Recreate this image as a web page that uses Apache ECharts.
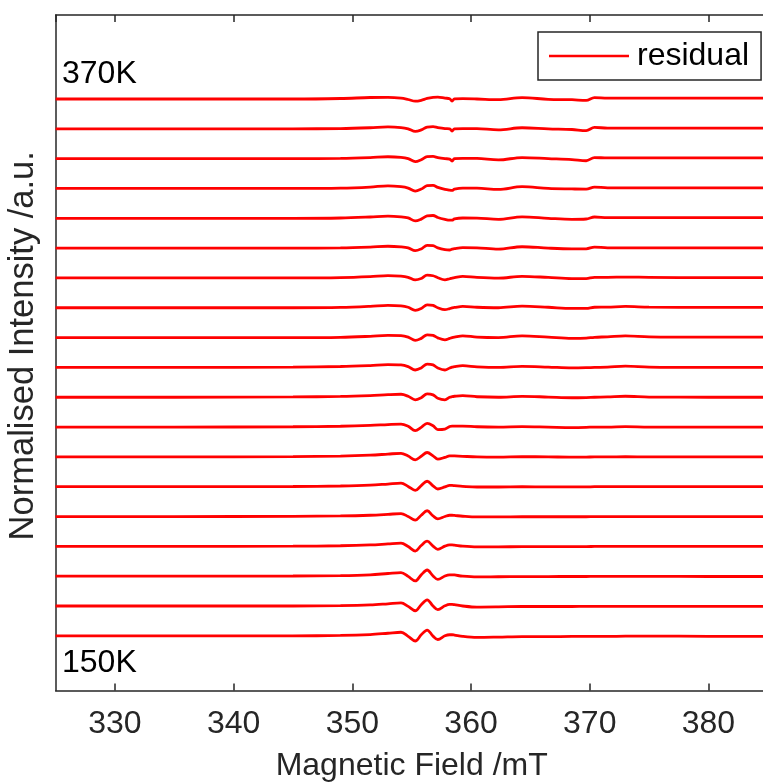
<!DOCTYPE html>
<html>
<head>
<meta charset="utf-8">
<script src="https://cdn.jsdelivr.net/npm/echarts@6/dist/echarts.min.js"></script>
<style>
html,body{margin:0;padding:0;background:#fff;}
#chart{width:763px;height:784px;}
</style>
</head>
<body>
<div id="chart"></div>
<script>
// Magnetic field grid (mT)
const fieldX = [325, 335, 345, 349, 351.5, 353, 354.1, 354.7, 355.3, 355.8, 356.3, 356.8, 357.2, 357.8, 358.2, 358.4, 358.6, 359.3, 360.5, 362.3, 364.3, 366.5, 368.5, 369.7, 370.4, 371.5, 373, 375, 380, 385];

// Residuals, bottom (150K) to top (370K)
const res01 = [0, 0, 0, 0.4, 1.3, 2.6, 3.6, -0.5, -5.2, 1.0, 5.8, -0.3, -3.7, 0, 1.1, 1.1, 0.8, -0.6, -1.6, -1.3, -0.8, -0.8, -0.6, -0.5, -0.5, -0.5, -0.4, -0.3, -0.5, -0.5];
const res02 = [0, 0, 0, 0.4, 1.1, 2.2, 3.1, -0.4, -4.8, 1.3, 6.2, 0, -3.6, 0.2, 1.6, 1.6, 1.3, 0, -1.1, -0.9, -0.5, -0.5, -0.5, -0.4, -0.4, -0.3, -0.3, -0.3, -0.4, -0.4];
const res03 = [0, 0, 0.2, 0.6, 1.4, 2.7, 3.6, -0.2, -4.8, 1.3, 6.2, 0.2, -3.3, 0.2, 1.4, 1.4, 1.2, 0, -0.8, -0.6, -0.4, -0.4, -0.3, -0.3, -0.2, -0.2, -0.2, -0.2, -0.3, -0.3];
const res04 = [0, 0, 0.2, 0.6, 1.4, 2.5, 3.3, -0.2, -4.7, 0.9, 5.3, 0.2, -3.0, 0.2, 1.4, 1.4, 1.2, 0.2, -0.5, -0.5, -0.3, -0.3, -0.2, -0.2, -0.1, 0, 0, 0, 0, 0];
const res05 = [0, 0, 0.2, 0.6, 1.3, 2.2, 3.0, 0, -3.7, 1.3, 5.8, 0.6, -2.3, 0, 1.3, 1.3, 1.1, 0.3, -0.4, -0.4, -0.2, -0.2, -0.2, -0.2, 0, 0, 0, 0, 0, 0];
const res06 = [0, 0, 0.2, 0.7, 1.5, 2.7, 3.6, 0.3, -3.7, 1.1, 5.5, 0.8, -2.3, -0.2, 1.3, 1.3, 1.1, 0.4, -0.3, -0.3, 0, -0.2, -0.2, -0.2, 0, 0, 0, 0, 0, 0];
const res07 = [0, 0, 0.3, 0.8, 1.7, 2.8, 3.6, 0.8, -3.0, 0.6, 4.4, 1.0, -2.3, -0.5, 1.1, 1.1, 1.0, 0.6, 0, -0.2, 0.2, 0, -0.3, -0.2, 0, 0, 0.2, 0, 0, 0];
const res08 = [0, 0, 0.3, 0.8, 1.6, 2.5, 3.0, 0.8, -3.6, -0.3, 3.7, 1.3, -2.5, -2.0, 0.5, 1.0, 1.0, 1.0, 0.3, 0, 0.5, 0, -0.5, -0.3, 0, 0, 0.4, 0, 0, 0];
const res09 = [0, 0, 0.3, 0.8, 1.7, 2.6, 3.0, 1.0, -2.6, -0.5, 3.4, 2.4, -1.1, -2.6, 0, 0.6, 1.0, 1.6, 0.5, 0, 0.9, 0.2, -0.5, -0.3, 0, 0.3, 1.0, 0.2, 0, 0];
const res10 = [0, 0, 0.3, 0.9, 1.9, 2.8, 2.5, 0.8, -2.6, -0.6, 3.4, 2.5, -0.6, -2.6, -0.6, 0.2, 0.8, 1.7, 0.6, 0, 1.0, 0.3, -0.5, -0.3, 0, 0.3, 1.3, 0.3, 0, 0];
const res11 = [0, 0, 0, 0.3, 1.3, 2.2, 2.0, 0.5, -2.8, -0.8, 2.8, 2.2, -0.3, -2.2, -0.8, 0, 0.5, 1.8, 0.5, 0, 1.8, 0.5, -0.7, -0.5, 0.3, 0.8, 1.8, 0.8, 0.5, 0.5];
const res12 = [0, 0, 0, 0.3, 1.4, 2.5, 2.0, 0.5, -2.6, -0.8, 3.0, 2.4, 0, -1.9, -0.8, 0, 0.3, 1.4, 0.5, 0, 1.6, 0.5, -0.7, -0.6, 0.5, 0.6, 1.3, 0.6, 0.3, 0.3];
const res13 = [0, 0, 0, 0.3, 1.3, 2.4, 1.8, 0.6, -2.0, -0.6, 2.8, 2.2, 0.2, -1.9, -0.8, -0.2, 0.3, 1.6, 0.5, -0.2, 1.6, 0.5, -0.7, -0.6, 0.6, 0.6, 0.9, 0.6, 0.3, 0.3];
const res14 = [0, 0, 0, 0.3, 1.1, 1.9, 1.3, 0.3, -2.6, -0.8, 2.7, 2.4, 0.3, -1.5, -1.9, -1.1, -0.5, 0.5, 0.3, -1.0, 1.4, 0, -0.7, -0.7, 1.1, 0.3, 0.3, 0.3, 0.3, 0.3];
const res15 = [0, 0, 0, 0.3, 1.3, 2.2, 1.5, 0.4, -2.6, -0.8, 2.4, 2.8, 0.8, -1.1, -1.9, -1.9, -0.6, 0.3, 0.2, -1.0, 1.4, 0, -1.0, -0.7, 1.3, 0.7, 0.7, 0.7, 0.7, 0.7];
const res16 = [0, 0, 0, 0.3, 1.4, 2.7, 1.8, 0.4, -2.6, -0.6, 2.8, 3.1, 1.1, -0.9, -1.7, -1.9, -0.7, 0.3, 0.3, -1.0, 1.9, 0, -0.5, -0.7, 1.3, 0.7, 0.7, 0.7, 0.7, 0.7];
const res17 = [0, 0, 0, 0.3, 1.1, 1.9, 1.3, 0, -3.0, -1.1, 2.0, 2.2, 1.1, 0, -0.5, -2.5, 0, 0.3, 0.2, -1.3, 1.1, 0, -1.0, -2.1, 1.1, 0.7, 0.7, 0.7, 0.7, 0.7];
const res18 = [0, 0, 0, 0.3, 1.1, 1.9, 1.3, 0, -2.6, -1.1, 1.8, 2.2, 1.3, 0.3, 0, -2.2, 0, 0.3, 0.2, -1.0, 1.1, 0, -0.7, -1.8, 1.4, 0.8, 0.8, 0.8, 0.8, 0.8];
const res19 = [0, 0, 0, 0.5, 1.5, 1.7, 0.9, -0.5, -2.2, -1.3, 0.6, 1.7, 1.9, 0.9, 0.3, -2.2, 0.2, 0.3, 0, -0.7, 1.4, -0.3, -0.7, -1.4, 1.4, 0.8, 0.8, 0.8, 0.8, 0.8];

const traces = [res01, res02, res03, res04, res05, res06, res07, res08, res09, res10,
                res11, res12, res13, res14, res15, res16, res17, res18, res19];
const traceSpacing = 30;          // vertical offset between stacked traces (a.u.)
const topLabel = '370K';
const bottomLabel = '150K';
const seriesName = 'residual';
const xTitle = 'Magnetic Field /mT';
const yTitle = 'Normalised Intensity /a.u.';

const FONT = '"Liberation Sans", Arial, Helvetica, sans-serif';
const AX = '#262626';

const chart = echarts.init(document.getElementById('chart'), null, {renderer: 'canvas'});

const series = traces.map((r, i) => ({
  type: 'line',
  name: seriesName,
  xAxisIndex: 0,
  yAxisIndex: 0,
  data: fieldX.map((x, k) => [x, r[k] + i * traceSpacing]),
  symbol: 'none',
  showSymbol: false,
  smooth: 0.35,
  silent: true,
  lineStyle: {color: '#ff0000', width: 2.8},
  itemStyle: {color: '#ff0000'},
  animation: false
}));

const option = {
  animation: false,
  backgroundColor: '#fff',
  grid: {left: 55.6, top: 15, width: 712.2, height: 675.5, containLabel: false, outerBoundsMode: 'none'},
  legend: {
    data: [{name: seriesName, icon: 'rect', itemStyle: {color: '#ff0000'}}],
    left: 538, top: 32,
    padding: [8, 12, 8, 11],
    itemWidth: 80, itemHeight: 2.6, itemGap: 0,
    borderColor: AX, borderWidth: 1.5,
    backgroundColor: '#fff',
    textStyle: {fontSize: 32, color: '#000', fontFamily: FONT, padding: [0, 0, 0, 3]}
  },
  xAxis: [{
    type: 'value', position: 'bottom', min: 325, max: 385, splitNumber: 6,
    name: xTitle, nameLocation: 'middle', nameGap: 60,
    nameTextStyle: {fontSize: 32, color: AX, fontFamily: FONT},
    axisLine: {show: true, onZero: false, lineStyle: {color: AX, width: 1.5}},
    axisTick: {show: true, inside: true, length: 7, lineStyle: {color: AX, width: 1.5}},
    axisLabel: {show: true, fontSize: 32, color: AX, fontFamily: FONT, margin: 18, showMinLabel: false, showMaxLabel: false},
    splitLine: {show: false}
  }, {
    type: 'value', position: 'top', min: 325, max: 385, splitNumber: 6,
    axisLine: {show: true, onZero: false, lineStyle: {color: AX, width: 1.5}},
    axisTick: {show: true, inside: true, length: 7, lineStyle: {color: AX, width: 1.5}},
    axisLabel: {show: false},
    splitLine: {show: false}
  }],
  yAxis: [{
    type: 'value', position: 'left', min: -55, max: 624.5,
    name: yTitle, nameLocation: 'middle', nameGap: 15,
    nameTextStyle: {fontSize: 34.5, color: AX, fontFamily: FONT, padding: [0, 0, 0, 14]},
    axisLine: {show: true, onZero: false, lineStyle: {color: AX, width: 1.5}},
    axisTick: {show: false},
    axisLabel: {show: false},
    splitLine: {show: false}
  }],
  graphic: [
    {type: 'text', left: 62, top: 58, style: {text: topLabel, fontSize: 32, fill: '#000', fontFamily: FONT}},
    {type: 'text', left: 62, top: 647, style: {text: bottomLabel, fontSize: 32, fill: '#000', fontFamily: FONT}}
  ],
  series: series
};
chart.setOption(option);
</script>
</body>
</html>
